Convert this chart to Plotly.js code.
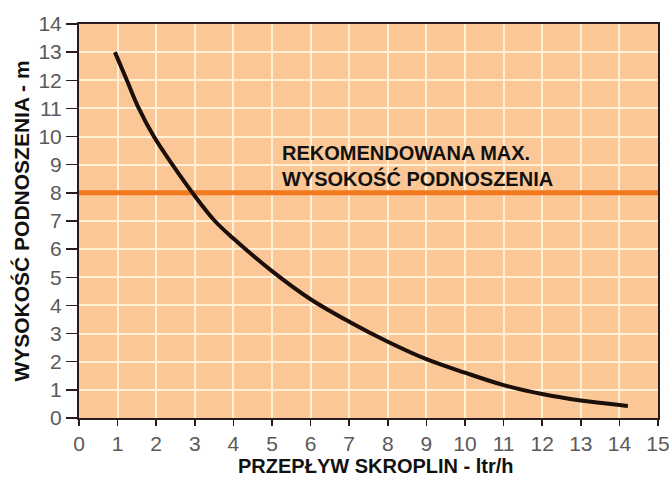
<!DOCTYPE html>
<html>
<head>
<meta charset="utf-8">
<script src="https://cdn.plot.ly/plotly-3.0.1.min.js"></script>
<style>html,body{margin:0;padding:0;background:#fff}#chart{width:669px;height:478px}</style>
</head>
<body>
<div id="chart"></div>
<script>
// Pump curve: flow (ltr/h) vs lift height (m)
const flow = [0.93, 1.24, 1.55, 1.94, 2.42, 2.94, 3.52, 4.0, 5.0, 6.0, 7.0, 8.0, 9.0, 10.0, 11.0, 12.0, 13.0, 14.0, 14.22];
const height = [13.0, 12.0, 11.0, 10.0, 9.0, 8.0, 7.0, 6.38, 5.22, 4.22, 3.42, 2.71, 2.09, 1.61, 1.17, 0.85, 0.62, 0.46, 0.43];
// Recommended max lift line
const maxLineX = [0, 15];
const maxLineY = [8, 8];
const annotationText = "REKOMENDOWANA MAX.<br>WYSOKOŚĆ PODNOSZENIA";
const xTitle = "PRZEPŁYW SKROPLIN - ltr/h";
const yTitle = "WYSOKOŚĆ PODNOSZENIA - m";
const xTicks = [0,1,2,3,4,5,6,7,8,9,10,11,12,13,14,15];
const yTicks = [0,1,2,3,4,5,6,7,8,9,10,11,12,13,14];

const tickFont = {family: "Liberation Sans Narrow, Arial Narrow, Liberation Sans, Arial, sans-serif", size: 21, color: "#5a5a5a"};
const titleFont = {family: "Liberation Sans, Arial, sans-serif", size: 20, color: "#111"};

const traces = [
  {x: maxLineX, y: maxLineY, mode: "lines", line: {color: "#F07A1C", width: 5}, hoverinfo: "skip", cliponaxis: true},
  {x: flow, y: height, mode: "lines", line: {color: "#1c0f0a", width: 4, shape: "spline", smoothing: 1.0}}
];

const layout = {
  width: 669, height: 478,
  margin: {l: 79, r: 11, t: 24, b: 60},
  paper_bgcolor: "#ffffff",
  plot_bgcolor: "#FCC797",
  showlegend: false,
  xaxis: {
    range: [0, 15], tickvals: xTicks, ticktext: xTicks.map(String),
    ticklabeloverflow: "allow",
    showgrid: true, gridcolor: "#FFF1D6", gridwidth: 2,
    showline: true, linecolor: "#2a1c1c", linewidth: 2, mirror: true,
    ticks: "outside", ticklen: 6, tickwidth: 1.5, tickcolor: "#2a1c1c",
    tickfont: tickFont, zeroline: false
  },
  yaxis: {
    range: [0, 14], tickvals: yTicks, ticktext: yTicks.map(String),
    ticklabeloverflow: "allow",
    showgrid: true, gridcolor: "#FFF1D6", gridwidth: 2,
    showline: true, linecolor: "#2a1c1c", linewidth: 2, mirror: true,
    ticks: "outside", ticklen: 11, tickwidth: 1.5, tickcolor: "#2a1c1c",
    tickfont: tickFont, zeroline: false,
    title: {text: "<b>" + yTitle + "</b>", font: {family: "Liberation Sans, Arial, sans-serif", size: 21, color: "#111"}, standoff: 3}
  },
  annotations: [{
    x: 5.2, y: 8.97, xref: "x", yref: "y", xanchor: "left", yanchor: "middle",
    text: "<b>" + annotationText + "</b>", showarrow: false, align: "left",
    font: {family: "Liberation Sans, Arial, sans-serif", size: 20, color: "#111"}
  }, {
    x: 0.513, y: -0.121, xref: "paper", yref: "paper", xanchor: "center", yanchor: "middle",
    text: "<b>" + xTitle + "</b>", showarrow: false, font: titleFont, borderpad: 0
  }]
};

Plotly.newPlot("chart", traces, layout, {staticPlot: true, displayModeBar: false});
</script>
</body>
</html>
